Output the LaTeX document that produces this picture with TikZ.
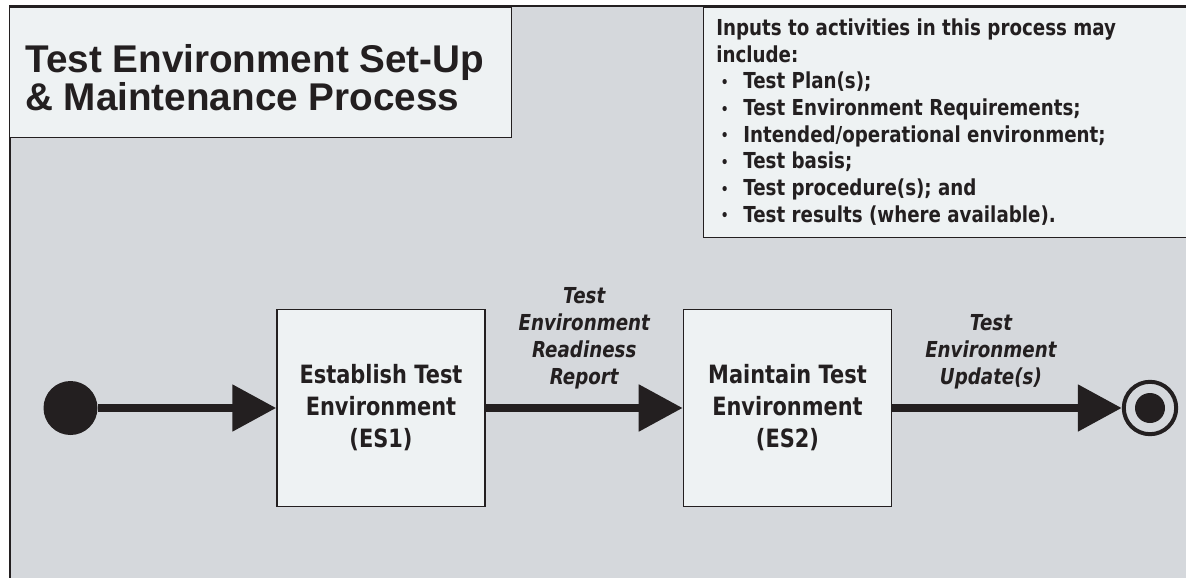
\documentclass[tikz,border=0pt]{standalone}
\usepackage{fontspec}
\setmainfont{DejaVu Sans}[FakeStretch=0.83]
\newfontfamily\TEtitlefont{Liberation Sans}
\usetikzlibrary{positioning,arrows.meta}
\definecolor{TEback}{HTML}{D5D8DC}
\definecolor{TEpanel}{HTML}{EEF2F3}
\definecolor{TEink}{HTML}{231F20}
\newcommand{\TEpx}{0.75pt}
\newcommand{\TEitem}{\makebox[20.25pt][l]{\hspace{3.5pt}\raisebox{1pt}{\fontsize{11}{11}\selectfont•}}}

\begin{document}
\begin{tikzpicture}[x=\TEpx, y=-\TEpx,
		panel/.style={draw=TEink, fill=TEpanel, line width=0.9pt},
		activity/.style={panel, line width=1.1pt, minimum width=208*\TEpx, minimum height=197*\TEpx, inner sep=0pt, align=center, text=TEink, font=\fontsize{18.9}{24}\selectfont\bfseries},
		flow/.style={draw=TEink, line width=6.4pt, -{Triangle[length=33pt, width=33.75pt]}},
		flowlabel/.style={align=center, inner sep=0pt, text=TEink, font=\fontsize{16.5}{20.25}\selectfont\bfseries\itshape},
		]
		\useasboundingbox (0,0) rectangle (1186,578);
		\clip (0,0) rectangle (1186,578);
		\draw[draw=TEink, fill=TEback, line width=1.5pt] (10,6) rectangle (1260,640);

		\node[panel, anchor=north west, minimum width=502*\TEpx, minimum height=130*\TEpx] (titlebox) at (9,7) {};
		\node[anchor=base west, align=left, inner sep=0pt, text=TEink, font=\TEtitlefont\fontsize{29}{28.5}\selectfont\bfseries] (title) at (25,110) {Test Environment Set-Up\\\& Maintenance Process};

		\node[panel, anchor=north west, minimum width=560*\TEpx, minimum height=230*\TEpx] (inputbox) at (703,7) {};
		\node[anchor=base west, align=left, inner sep=0pt, text=TEink, font=\fontsize{16.5}{20}\selectfont\bfseries] (inputs) at (716,222) {Inputs to activities in this process may\\include:\\\TEitem Test Plan(s);\\\TEitem Test Environment Requirements;\\\TEitem Intended/operational environment;\\\TEitem Test basis;\\\TEitem Test procedure(s); and\\\TEitem Test results (where available).};

		\node[circle, fill=TEink, minimum size=54*\TEpx, inner sep=0pt] (start) at (70.5,408) {};
		\node[activity, right=178.5*\TEpx of start] (es1) {Establish Test\\Environment\\(ES1)};
		\node[activity, right=197*\TEpx of es1] (es2) {Maintain Test\\Environment\\(ES2)};
		\node[circle, draw=TEink, line width=3pt, minimum size=52.4*\TEpx, inner sep=0pt, right=229.6*\TEpx of es2, path picture={\fill[TEink] (path picture bounding box.center) circle (11.25pt);}] (stop) {};

		\draw[flow] (start) -- (es1);
		\draw[flow] (es1) -- node[flowlabel, above=11pt] (readiness) {Test\\Environment\\Readiness\\Report} (es2);
		\draw[flow] (es2) -- node[flowlabel, pos=0.43, above=11pt] (update) {Test\\Environment\\Update(s)} (stop);
	\end{tikzpicture}
\end{document}
